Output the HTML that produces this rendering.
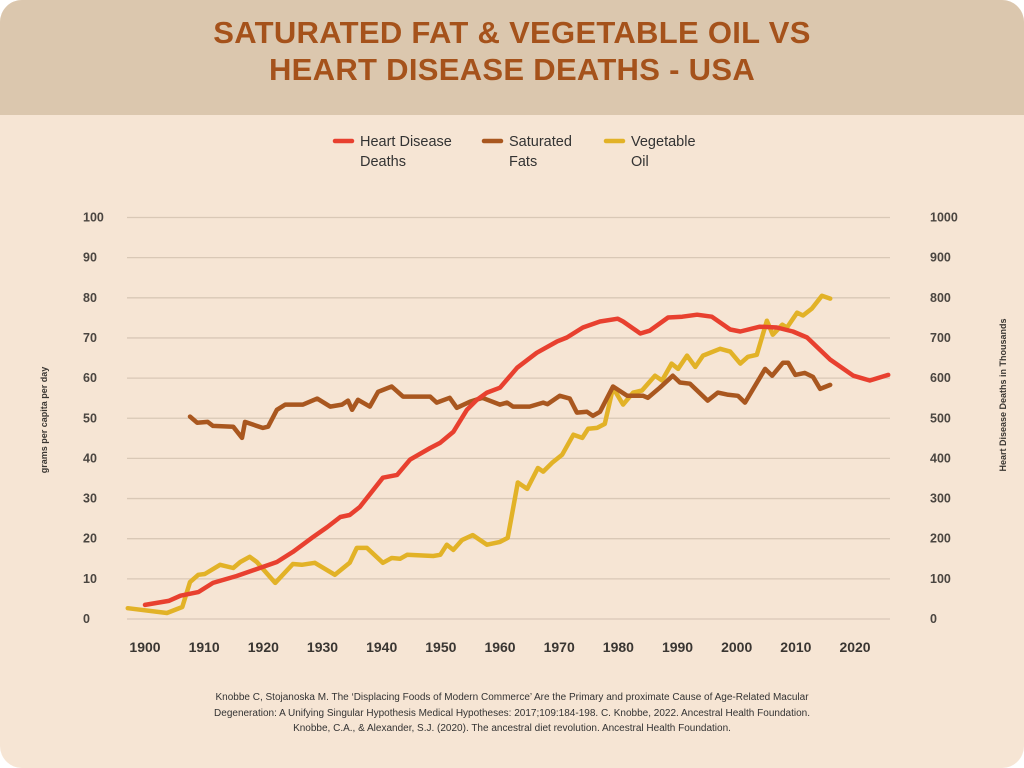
<!DOCTYPE html>
<html><head><meta charset="utf-8"><style>
html,body{margin:0;padding:0;background:#fff;}
#card{position:relative;width:1024px;height:768px;background:#f6e5d4;border-radius:22px;overflow:hidden;font-family:"Liberation Sans",sans-serif;}
#band{position:absolute;left:0;top:0;width:1024px;height:115px;background:#dbc7ae;}
#title{position:absolute;left:0;top:14px;width:1024px;text-align:center;color:#a5521b;font-weight:bold;font-size:31px;line-height:37px;letter-spacing:0.3px;}
#foot{position:absolute;left:0;top:690px;width:1024px;text-align:center;color:#333;font-size:10px;line-height:15.5px;}
svg{position:absolute;left:0;top:0;}
</style></head><body>
<div id="card">
<div id="band"></div>
<div id="title">SATURATED FAT &amp; VEGETABLE OIL VS<br>HEART DISEASE DEATHS - USA</div>
<svg id="chart" width="1024" height="768"></svg>
<div id="foot">Knobbe C, Stojanoska M. The ‘Displacing Foods of Modern Commerce’ Are the Primary and proximate Cause of Age-Related Macular<br>Degeneration: A Unifying Singular Hypothesis Medical Hypotheses: 2017;109:184-198. C. Knobbe, 2022. Ancestral Health Foundation.<br>Knobbe, C.A., &amp; Alexander, S.J. (2020). The ancestral diet revolution. Ancestral Health Foundation.</div>
</div>
<script>
const leftTicks=[0,10,20,30,40,50,60,70,80,90,100];
const rightTicks=[0,100,200,300,400,500,600,700,800,900,1000];
const xTicks=[1900,1910,1920,1930,1940,1950,1960,1970,1980,1990,2000,2010,2020];
const heartYears=[1900,1904,1906,1909,1911.5,1915.5,1919.4,1922.3,1925,1928.4,1930.8,1933,1934.6,1936.3,1940.2,1942.6,1944.8,1948.2,1949.9,1952.1,1954.4,1956.1,1957.8,1960,1962.9,1966.2,1969.6,1971.3,1974,1976.9,1979.9,1980.8,1983.7,1985.3,1988.4,1990.8,1993.3,1995.8,1998.9,2000.6,2003.9,2006.8,2009.5,2011.9,2015.8,2019.7,2022.5,2025.6];
const heartDeaths=[35,45,58,67,90,107,127,142,167,204,229,254,259,279,352,359,397,426,439,466,521,546,564,576,626,663,691,701,726,741,748,741,711,718,751,753,758,753,721,716,728,726,716,701,646,606,594,608];
const fatYears=[1907.6,1908.8,1910.6,1911.5,1914.9,1916.4,1916.9,1919.9,1920.8,1922.3,1923.7,1926.7,1929.1,1931.3,1933.3,1934.3,1935,1936,1938,1939.4,1941.7,1943.6,1946,1948.2,1949.3,1951.5,1952.7,1954.9,1957,1960,1961.2,1962.2,1965,1967.3,1968,1970.1,1971.8,1973,1974.7,1975.7,1976.9,1979.1,1981.5,1984.2,1985,1987,1989.2,1990.4,1992.1,1995.1,1996.8,1998.4,2000.2,2001.4,2004.8,2006,2007.8,2008.7,2009.9,2011.5,2012.9,2014.1,2015.8];
const fatValues=[50.4,48.9,49.1,48.1,47.9,45.1,49.1,47.6,47.9,52.1,53.4,53.4,54.9,52.9,53.4,54.4,52.1,54.6,52.9,56.6,57.9,55.4,55.4,55.4,53.9,55.1,52.6,54.1,55.1,53.4,53.9,52.9,52.9,53.9,53.5,55.6,54.9,51.4,51.6,50.6,51.6,57.9,55.6,55.6,55.1,57.6,60.6,58.9,58.6,54.4,56.4,55.9,55.6,53.9,62.3,60.6,63.8,63.8,60.8,61.3,60.3,57.3,58.3];
const oilYears=[1897.1,1903.7,1906.3,1907.6,1909,1910.1,1912.7,1914.9,1916.1,1917.7,1918.9,1922,1925,1926.5,1928.7,1932.1,1934.6,1935.8,1937.5,1940.2,1941.7,1943.1,1944.3,1948.7,1949.9,1951,1952.1,1953.6,1955.4,1957.8,1960,1961.3,1963,1964.6,1966.4,1967.3,1968.8,1970.5,1972.4,1973.9,1974.9,1976.4,1977.7,1979.1,1980.8,1982.5,1984,1986.2,1987.4,1989,1990.1,1991.6,1993,1994.3,1997.2,1998.9,2000.6,2001.9,2003.4,2005.1,2006.1,2007.7,2008.5,2010.2,2011.2,2012.7,2014.4,2015.8];
const oilValues=[2.7,1.5,3,9.2,11,11.2,13.5,12.7,14.2,15.5,14.2,9,13.7,13.5,14,11,14,17.7,17.7,14,15.2,15,16,15.7,16,18.5,17.2,19.7,20.9,18.5,19.2,20.2,34,32.4,37.6,36.7,38.9,40.9,45.9,45.1,47.4,47.6,48.6,57.6,53.4,56.4,56.9,60.6,59.4,63.6,62.3,65.6,62.8,65.6,67.3,66.6,63.6,65.3,65.8,74.3,70.8,73.3,72.6,76.3,75.6,77.3,80.5,79.8];

const NS='http://www.w3.org/2000/svg';
const svg=document.getElementById('chart');
const X=yr=>145+(yr-1900)*5.917;
const YL=v=>619-v*4.015;
const YR=v=>YL(v/10);
function mk(tag,attrs,txt){const e=document.createElementNS(NS,tag);for(const k in attrs)e.setAttribute(k,attrs[k]);if(txt!==undefined)e.textContent=txt;svg.appendChild(e);return e;}

leftTicks.forEach((t,i)=>{
  const g=mk('line',{x1:127,x2:890,y1:YL(t),y2:YL(t),stroke:'#d9c8b6','stroke-width':1.3});
  
  
  const l=mk('text',{x:83,y:YL(t)+4,'font-size':12.5,'font-weight':'bold',fill:'#4a4540'},String(t));
  
  
  const r=mk('text',{x:930,y:YL(t)+4,'font-size':12.5,'font-weight':'bold',fill:'#4a4540'},String(rightTicks[i]));
  
  
});
xTicks.forEach(t=>{
  const l=mk('text',{x:X(t),y:652,'font-size':14,'font-weight':'bold',fill:'#3a3632','text-anchor':'middle'},String(t));
  
  
});
const lt=mk('text',{x:0,y:0,'font-size':9,'font-weight':'bold',fill:'#3a3632','text-anchor':'middle',transform:'translate(47,420) rotate(-90)'},'grams per capita per day');


const rt=mk('text',{x:0,y:0,'font-size':9,'font-weight':'bold',fill:'#3a3632','text-anchor':'middle',transform:'translate(1006,395) rotate(-90)'},'Heart Disease Deaths in Thousands');



function series(xs,ys,yf,color,name){
  const d=xs.map((x,i)=>(i?'L':'M')+X(x).toFixed(1)+','+yf(ys[i]).toFixed(1)).join(' ');
  const p=mk('path',{d:d,fill:'none',stroke:color,'stroke-width':4.5,'stroke-linejoin':'round','stroke-linecap':'round'});
  
  
}
series(oilYears,oilValues,YL,'#e2b227','vegetable-oil-line');
series(fatYears,fatValues,YL,'#a9571f','saturated-fats-line');
series(heartYears,heartDeaths,YR,'#e8402f','heart-disease-line');

const legend=[['#e8402f','Heart Disease','Deaths',335],['#a9571f','Saturated','Fats',484],['#e2b227','Vegetable','Oil',606]];
legend.forEach(([c,a,b,x])=>{
  const s=mk('line',{x1:x,x2:x+17,y1:141,y2:141,stroke:c,'stroke-width':4.5,'stroke-linecap':'round'});
  
  
  const t=mk('text',{x:x+25,y:146,'font-size':14.5,fill:'#333'},a);
  
  
  const t2=mk('text',{x:x+25,y:166,'font-size':14.5,fill:'#333'},b);
  
  
});
</script>
</body></html>
